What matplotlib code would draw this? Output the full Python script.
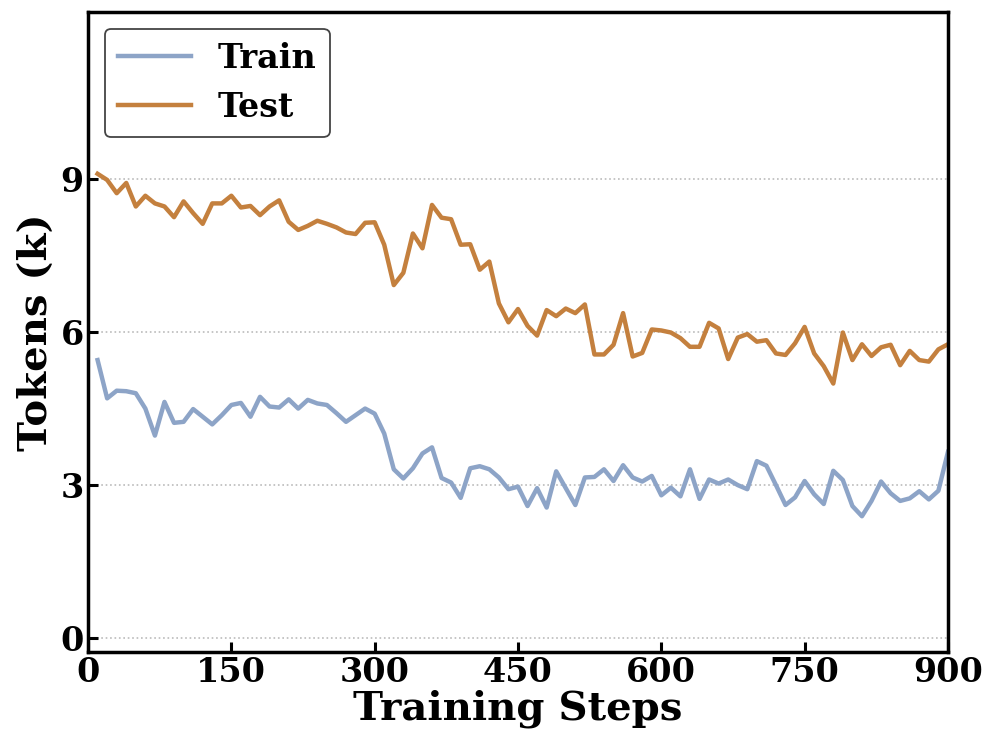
import matplotlib
matplotlib.use("Agg")
import matplotlib.pyplot as plt
import numpy as np

steps = list(range(10, 901, 10))

train = [5.45, 4.70, 4.85, 4.84, 4.80, 4.50, 3.97, 4.63, 4.22, 4.24,
         4.49, 4.34, 4.19, 4.37, 4.57, 4.61, 4.34, 4.73, 4.54, 4.52,
         4.68, 4.50, 4.67, 4.60, 4.57, 4.41, 4.24, 4.37, 4.50, 4.40,
         4.01, 3.31, 3.13, 3.33, 3.62, 3.74, 3.14, 3.05, 2.75, 3.33,
         3.37, 3.31, 3.15, 2.92, 2.97, 2.59, 2.94, 2.56, 3.27, 2.94,
         2.61, 3.15, 3.16, 3.31, 3.08, 3.39, 3.15, 3.07, 3.18, 2.80,
         2.95, 2.78, 3.31, 2.73, 3.11, 3.03, 3.11, 3.00, 2.92, 3.47,
         3.38, 3.00, 2.61, 2.76, 3.08, 2.82, 2.63, 3.28, 3.10, 2.59,
         2.39, 2.69, 3.07, 2.84, 2.69, 2.74, 2.88, 2.72, 2.89, 3.65]

test = [9.10, 8.98, 8.72, 8.92, 8.46, 8.67, 8.52, 8.46, 8.25, 8.56,
        8.33, 8.12, 8.52, 8.52, 8.67, 8.44, 8.47, 8.29, 8.46, 8.58,
        8.16, 8.00, 8.08, 8.18, 8.12, 8.05, 7.95, 7.92, 8.14, 8.15,
        7.71, 6.92, 7.16, 7.93, 7.64, 8.49, 8.24, 8.21, 7.71, 7.72,
        7.22, 7.38, 6.56, 6.19, 6.45, 6.12, 5.93, 6.43, 6.31, 6.46,
        6.37, 6.54, 5.56, 5.56, 5.75, 6.37, 5.52, 5.59, 6.05, 6.03,
        5.99, 5.88, 5.71, 5.71, 6.18, 6.07, 5.47, 5.89, 5.96, 5.81,
        5.84, 5.58, 5.55, 5.78, 6.10, 5.58, 5.33, 4.99, 5.99, 5.45,
        5.76, 5.53, 5.70, 5.75, 5.35, 5.63, 5.45, 5.42, 5.66, 5.76]

xticks = [0, 150, 300, 450, 600, 750, 900]
yticks = [0, 3, 6, 9]

plt.rcParams['font.family'] = ['DejaVu Serif']
plt.rcParams['font.weight'] = 'bold'

fig = plt.figure(figsize=(9.97, 7.52), dpi=100)
ax = fig.add_axes([0.0883, 0.133, 0.8625, 0.851])

ax.plot(steps, train, color='#8DA4C7', lw=3.2, label='Train')
ax.plot(steps, test, color='#C4803E', lw=3.2, label='Test')

ax.set_xlim(0, 900)
ax.set_ylim(-0.27, 12.27)
ax.set_xticks(xticks)
ax.set_yticks(yticks)
ax.tick_params(direction='in', length=7, width=2.2, labelsize=24, pad=3)
for lab in ax.get_xticklabels() + ax.get_yticklabels():
    lab.set_fontweight('bold')
ax.yaxis.grid(True, linestyle=':', color='#BBBBBB', lw=1.2)
for s in ax.spines.values():
    s.set_linewidth(2.5)

ax.set_xlabel('Training Steps', fontsize=29, fontweight='bold', labelpad=0)
ax.set_ylabel('Tokens (k)', fontsize=29, fontweight='bold', labelpad=4)

leg = ax.legend(loc='upper left', fontsize=24, handlelength=2.2, handletextpad=0.8,
                borderpad=0.4, labelspacing=0.48, frameon=True, fancybox=True,
                bbox_to_anchor=(0.0, 1.0))
leg.get_frame().set_edgecolor('#444444')
leg.get_frame().set_linewidth(1.3)
leg.get_frame().set_alpha(1)
for t in leg.get_texts():
    t.set_fontweight('bold')

fig.savefig('out.png', dpi=100)
